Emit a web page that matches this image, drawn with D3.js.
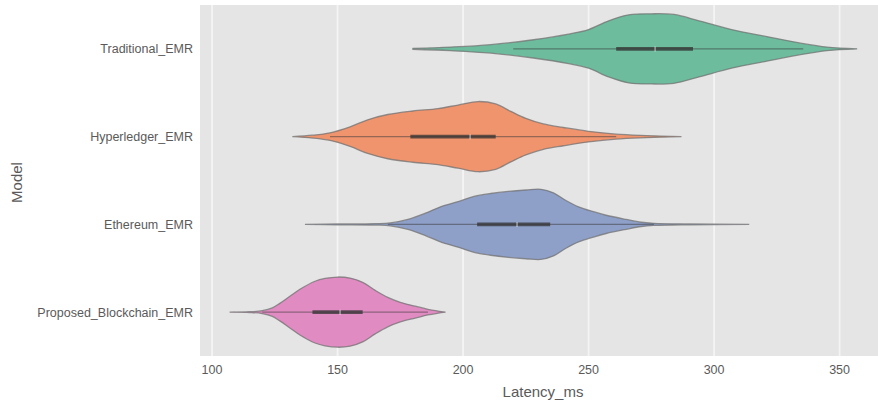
<!DOCTYPE html>
<html>
<head>
<meta charset="utf-8">
<script src="https://cdn.jsdelivr.net/npm/d3@7"></script>
<style>
    body { margin: 0; background: #ffffff; }
    svg { display: block; font-family: "Liberation Sans", Arial, sans-serif; }
</style>
</head>
<body>
<div id="chart"></div>
<script>
// ===== Latency violin plot =====

const models = ['Traditional_EMR', 'Hyperledger_EMR', 'Ethereum_EMR', 'Proposed_Blockchain_EMR'];
const xTicks = [100, 150, 200, 250, 300, 350];
const palette = ['#6dbc9e', '#f0946e', '#8e9fc8', '#e08bc1'];

// density outlines (latency, relative width)
const traditionalLatency = [180, 195, 211, 228, 242, 250, 258, 266, 275, 284, 294, 307, 321, 334, 345, 357];
const traditionalDensity = [0.01, 0.05, 0.12, 0.26, 0.42, 0.55, 0.80, 0.97, 1.0, 0.98, 0.80, 0.55, 0.35, 0.17, 0.05, 0];

const hyperledgerLatency = [132, 140, 147, 155, 162, 170, 180, 190, 198, 206, 213, 219, 225, 232, 240, 250, 261, 273, 287];
const hyperledgerDensity = [0, 0.04, 0.11, 0.28, 0.48, 0.63, 0.73, 0.80, 0.90, 1.0, 0.93, 0.72, 0.52, 0.36, 0.26, 0.15, 0.07, 0.03, 0];

const ethereumLatency = [137, 150, 165, 171, 178, 185, 191, 198, 204, 211, 218, 225, 231, 236, 241, 246, 252, 257, 265, 271, 276, 290, 314];
const ethereumDensity = [0, 0.01, 0.02, 0.04, 0.14, 0.32, 0.50, 0.65, 0.79, 0.88, 0.94, 0.98, 1.0, 0.90, 0.68, 0.50, 0.36, 0.26, 0.14, 0.06, 0.03, 0.01, 0];

const proposedLatency = [107, 115, 120, 124, 127, 131, 135, 141, 145, 150, 155, 160, 165, 170, 175, 181, 186, 190, 193];
const proposedDensity = [0, 0.01, 0.04, 0.12, 0.25, 0.45, 0.65, 0.88, 0.96, 1.0, 0.97, 0.85, 0.62, 0.42, 0.28, 0.17, 0.08, 0.03, 0];

// inner box: whisker low, q1, median, q3, whisker high
const boxLow    = [220, 147, 170, 120];
const boxQ1     = [261, 179, 205.6, 140];
const boxMedian = [276.5, 202.8, 221.5, 151];
const boxQ3     = [291.6, 213, 234.7, 160];
const boxHigh   = [335.5, 261, 276, 186];

const outlines = [
    [traditionalLatency, traditionalDensity],
    [hyperledgerLatency, hyperledgerDensity],
    [ethereumLatency, ethereumDensity],
    [proposedLatency, proposedDensity]
];

const width = 878;
const height = 403;
const margin = { top: 5, right: 0, bottom: 47, left: 200 };

const svg = d3.select('#chart')
    .append('svg')
    .attr('width', width)
    .attr('height', height);

const x = d3.scaleLinear()
    .domain([95.2, 365.3])
    .range([margin.left, width - margin.right]);

const y = d3.scaleBand()
    .domain(models)
    .range([margin.top, height - margin.bottom])
    .padding(0);

// plot background
svg.append('rect')
    .attr('x', margin.left)
    .attr('y', margin.top)
    .attr('width', width - margin.left - margin.right)
    .attr('height', height - margin.top - margin.bottom)
    .attr('fill', '#e5e5e5');

// vertical grid
svg.append('g')
    .selectAll('line')
    .data(xTicks)
    .enter().append('line')
    .attr('x1', d => x(d))
    .attr('x2', d => x(d))
    .attr('y1', margin.top)
    .attr('y2', height - margin.bottom)
    .style('stroke', '#ffffff')
    .style('stroke-width', 1.8)
    .style('opacity', 0.6);

const halfWidth = y.bandwidth() * 0.4;

const g = svg.append('g');

models.forEach((m, i) => {
    const cy = y(m) + y.bandwidth() / 2;
    const [lat, dens] = outlines[i];
    const pts = lat.map((v, k) => ({ v: v, d: dens[k] }));

    const area = d3.area()
        .x(p => x(p.v))
        .y0(p => cy + p.d * halfWidth)
        .y1(p => cy - p.d * halfWidth)
        .curve(d3.curveCatmullRom.alpha(0.5));

    g.append('path')
        .datum(pts)
        .attr('d', area)
        .style('fill', palette[i])
        .style('stroke', '#727272')
        .style('stroke-width', 1.3)
        .style('stroke-opacity', 0.75);

    // whiskers
    g.append('line')
        .attr('x1', x(boxLow[i]))
        .attr('x2', x(boxHigh[i]))
        .attr('y1', cy)
        .attr('y2', cy)
        .style('stroke', '#3a3a3a')
        .style('stroke-width', 1.3)
        .style('opacity', 0.5);

    // interquartile bar
    g.append('line')
        .attr('x1', x(boxQ1[i]))
        .attr('x2', x(boxQ3[i]))
        .attr('y1', cy)
        .attr('y2', cy)
        .style('stroke', '#333333')
        .style('stroke-width', 3.6)
        .style('opacity', 0.75);

    // median
    g.append('line')
        .attr('x1', x(boxMedian[i]))
        .attr('x2', x(boxMedian[i]))
        .attr('y1', cy - 2.5)
        .attr('y2', cy + 2.5)
        .style('stroke', '#ffffff')
        .style('stroke-width', 1.2)
        .style('opacity', 0.6);
});

// x tick labels
svg.append('g')
    .selectAll('text')
    .data(xTicks)
    .enter().append('text')
    .attr('x', d => x(d))
    .attr('y', height - margin.bottom + 18)
    .style('text-anchor', 'middle')
    .style('font-size', '12.5px')
    .style('fill', '#5a5a5a')
    .text(d => d);

// y tick labels
svg.append('g')
    .selectAll('text')
    .data(models)
    .enter().append('text')
    .attr('x', margin.left - 7)
    .attr('y', d => y(d) + y.bandwidth() / 2 + 4.5)
    .style('text-anchor', 'end')
    .style('font-size', '12.5px')
    .style('fill', '#5a5a5a')
    .text(d => d);

// axis titles
svg.append('text')
    .attr('x', (margin.left + width - margin.right) / 2 + 4)
    .attr('y', 397)
    .style('text-anchor', 'middle')
    .style('font-size', '15px')
    .style('fill', '#5a5a5a')
    .text('Latency_ms');

svg.append('text')
    .attr('transform', `translate(22, ${(margin.top + height - margin.bottom) / 2 + 2}) rotate(-90)`)
    .style('text-anchor', 'middle')
    .style('font-size', '15px')
    .style('fill', '#5a5a5a')
    .text('Model');
</script>
</body>
</html>
